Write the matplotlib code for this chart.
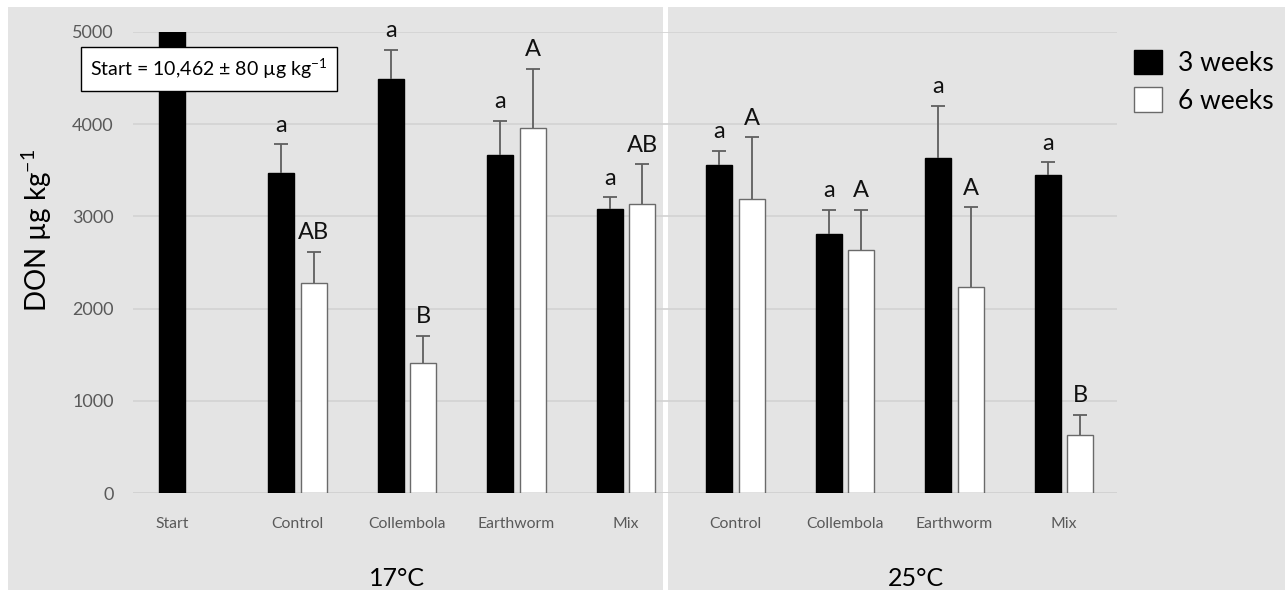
import matplotlib
matplotlib.use("Agg")
import matplotlib.pyplot as plt
from matplotlib.patches import Rectangle, Patch
import numpy as np

plt.rcParams['font.family'] = ['Lato', 'DejaVu Sans']
plt.rcParams['mathtext.fontset'] = 'custom'
plt.rcParams['mathtext.rm'] = 'Lato'
plt.rcParams['mathtext.default'] = 'regular'

# ---- data ----
categories = ["Start", "Control", "Collembola", "Earthworm", "Mix",
              "Control", "Collembola", "Earthworm", "Mix"]
start_value = 10462
start_err = 80
weeks3 = [3470, 4490, 3665, 3080, 3560, 2810, 3630, 3450]
weeks3_err = [315, 320, 370, 130, 150, 260, 570, 140]
weeks6 = [2280, 1410, 3960, 3135, 3190, 2635, 2230, 630]
weeks6_err = [335, 295, 640, 430, 670, 435, 870, 220]
letters3 = ["a", "a", "a", "a", "a", "a", "a", "a"]
letters6 = ["AB", "B", "A", "AB", "A", "A", "A", "B"]
groups = ["17°C", "25°C"]
series = ["3 weeks", "6 weeks"]

# ---- layout ----
W, H = 1285, 590
fig = plt.figure(figsize=(W / 100, H / 100), dpi=100)
bg = '#e4e4e4'
fig.patches.append(Rectangle((8 / W, 0), 1, 1 - 7 / H, transform=fig.transFigure,
                             facecolor=bg, edgecolor='none', zorder=-10))
fig.patches.append(Rectangle((663 / W, 0), 5 / W, 1 - 7 / H, transform=fig.transFigure,
                             facecolor='white', edgecolor='none', zorder=-9))

ax = fig.add_axes([133 / W, 1 - 493 / H, (1117 - 133) / W, (493 - 32) / H])
ax.set_facecolor('none')
for s in ax.spines.values():
    s.set_visible(False)

x_start = 0.0
x_cat = 1.146 + np.arange(len(weeks3))
bw = 0.235
off = 0.148

ax.bar([x_start], [start_value], width=bw, color='black', edgecolor='black', zorder=3)
ax.bar(x_cat - off, weeks3, width=bw, color='black', edgecolor='black', zorder=3)
ax.bar(x_cat + off, weeks6, width=bw, color='white', edgecolor='#6a6a6a',
       linewidth=1.0, zorder=3)

ecol = '#5f5f5f'
top3 = np.array(weeks3) + np.array(weeks3_err)
top6 = np.array(weeks6) + np.array(weeks6_err)
ax.vlines(x_cat - off, weeks3, top3, color=ecol, linewidth=1.3, zorder=4)
ax.vlines(x_cat + off, weeks6, top6, color=ecol, linewidth=1.3, zorder=4)
ax.plot(x_cat - off, top3, linestyle='none', marker='_', markersize=10,
        markeredgewidth=1.3, color=ecol, zorder=4)
ax.plot(x_cat + off, top6, linestyle='none', marker='_', markersize=10,
        markeredgewidth=1.3, color=ecol, zorder=4)

for xi, y, t in zip(x_cat - off, top3, letters3):
    ax.annotate(t, (xi, y), xytext=(0, 9), textcoords='offset points',
                ha='center', va='baseline', fontsize=17, color='#111111', zorder=5)
for xi, y, t in zip(x_cat + off, top6, letters6):
    ax.annotate(t, (xi, y), xytext=(0, 9), textcoords='offset points',
                ha='center', va='baseline', fontsize=17, color='#111111', zorder=5)

ax.set_ylim(0, 5000)
ax.set_xlim(-0.356, 8.63)
ax.set_yticks([0, 1000, 2000, 3000, 4000, 5000])
ax.yaxis.grid(True, color='#d2d2d2', linewidth=1.2, zorder=0)
ax.set_axisbelow(True)
ax.tick_params(axis='y', length=0, labelsize=13, labelcolor='#595959', pad=14)
ax.set_xticks(np.concatenate([[x_start], x_cat]))
ax.set_xticklabels(categories)
ax.tick_params(axis='x', length=0, labelsize=11.3, labelcolor='#595959', pad=17)
ax.axhline(0, color='#d2d2d2', linewidth=1.2, zorder=1)

# y label
fig.text(37 / W, 1 - 230 / H, r'DON µg kg$^{-1}$', rotation=90, ha='center', va='center',
         fontsize=20, color='black')

# group labels
fig.text(397 / W, 1 - 578 / H, groups[0], ha='center', va='center', fontsize=18, color='black')
fig.text(916 / W, 1 - 578 / H, groups[1], ha='center', va='center', fontsize=18, color='black')

# start annotation
fig.text(209 / W, 1 - 69 / H, r'Start = 10,462 ± 80 µg kg$^{-1}$', ha='center', va='center',
         fontsize=14, color='black', zorder=6,
         bbox=dict(boxstyle='square,pad=0.5', facecolor='white', edgecolor='black', linewidth=1))

# legend
handles = [Patch(facecolor='black', edgecolor='black'),
           Patch(facecolor='white', edgecolor='#6a6a6a')]
fig.legend(handles, series, loc='upper left', bbox_to_anchor=(1134 / W, 1 - 50 / H),
           frameon=False, fontsize=19, handlelength=1.05, handleheight=1.05,
           handletextpad=0.6, labelspacing=0.42, borderpad=0, borderaxespad=0)

fig.savefig('out.png', dpi=100)
